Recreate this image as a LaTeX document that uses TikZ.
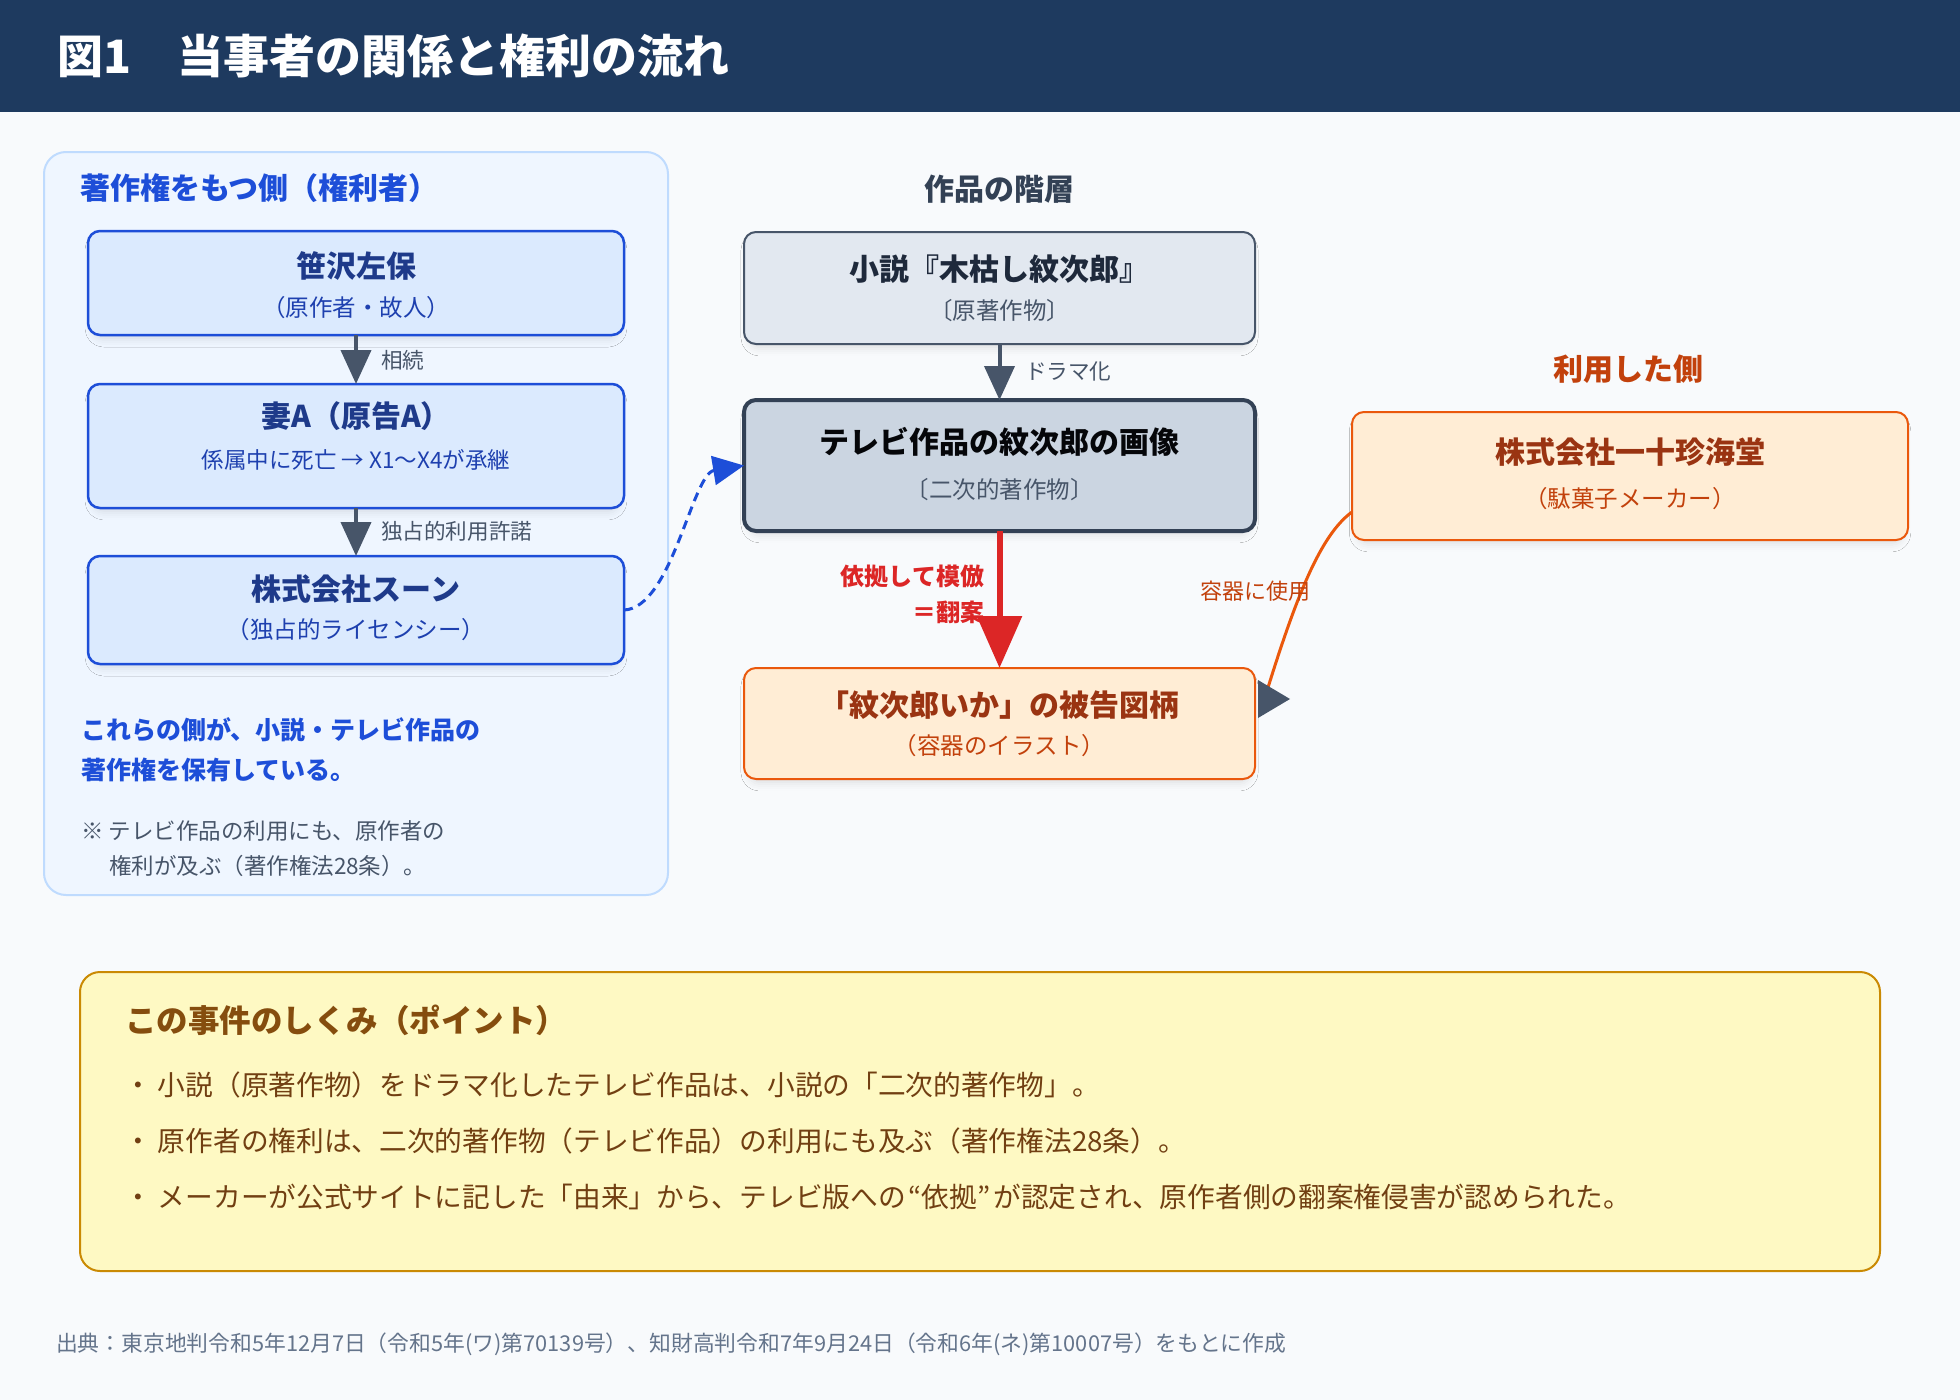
\documentclass[tikz,border=0pt]{standalone}
\usepackage{fontspec}
\setmainfont{Noto Sans CJK JP}
\usetikzlibrary{arrows.meta,shadows.blur}
\definecolor{bgc}{HTML}{F8FAFC}
\definecolor{navy}{HTML}{1E3A5F}
\definecolor{pfill}{HTML}{EFF6FF}
\definecolor{pline}{HTML}{BFDBFE}
\definecolor{bfill}{HTML}{DBEAFE}
\definecolor{bline}{HTML}{1D4ED8}
\definecolor{btitle}{HTML}{1E3A8A}
\definecolor{bsub}{HTML}{1E40AF}
\definecolor{sfill4}{HTML}{E2E8F0}
\definecolor{sfill5}{HTML}{CBD5E1}
\definecolor{slate}{HTML}{475569}
\definecolor{slatedk}{HTML}{334155}
\definecolor{slatetx}{HTML}{1E293B}
\definecolor{ofill}{HTML}{FFEDD5}
\definecolor{oline}{HTML}{EA580C}
\definecolor{otitle}{HTML}{9A3412}
\definecolor{osub}{HTML}{C2410C}
\definecolor{redc}{HTML}{DC2626}
\definecolor{yfill}{HTML}{FEF9C3}
\definecolor{yline}{HTML}{CA8A04}
\definecolor{ytitle}{HTML}{854D0E}
\definecolor{ytext}{HTML}{713F12}
\definecolor{foot}{HTML}{64748B}
\newcommand\myfs[1]{\fontsize{#1}{#1}\selectfont}
\tikzset{
  shad/.style={blur shadow={shadow xshift=0pt,shadow yshift=-6pt,shadow blur radius=7pt,shadow opacity=9,shadow scale=0.985}},
  bluebox/.style={shad,draw=bline,line width=2.5pt,fill=bfill,rounded corners=12pt,minimum width=536pt},
  novelbox/.style={shad,draw=slate,line width=2pt,fill=sfill4,rounded corners=12pt,minimum width=511pt},
  tvbox/.style={shad,draw=slatedk,line width=4pt,fill=sfill5,rounded corners=12pt,minimum width=511pt},
  orbox/.style={shad,draw=oline,line width=2pt,fill=ofill,rounded corners=12pt},
  btit/.style={text=btitle,font=\myfs{30}\bfseries},
  bsubt/.style={text=bsub,font=\myfs{23.5}},
  stit/.style={text=slatetx,font=\myfs{30}\bfseries},
  ssub/.style={text=slate,font=\myfs{23.5}},
  otit/.style={text=otitle,font=\myfs{30}\bfseries},
  osubt/.style={text=osub,font=\myfs{23.5}},
  alabel/.style={text=slate,font=\myfs{21.6},anchor=west},
  slatearrow/.style={draw=slate,line width=4pt,-{Triangle[length=34pt,width=30pt]}},
  heading/.style={font=\myfs{30}\bfseries},
}
\begin{document}
\begin{tikzpicture}[x=1pt,y=-1pt,every node/.style={inner sep=0pt,outer sep=0pt}]
\useasboundingbox (0,0) rectangle (1960,1400);
\fill[bgc] (0,0) rectangle (1960,1400);
\fill[navy] (0,0) rectangle (1960,112);
\node[anchor=west,text=white,font=\myfs{46}\bfseries] (title) at (57,56) {図1　当事者の関係と権利の流れ};

% left panel
\node[draw=pline,line width=2pt,fill=pfill,rounded corners=22pt,minimum width=624pt,minimum height=743pt] (panel) at (356,523.5) {};
\node[heading,text=bline,anchor=west] (ptitle) at (80,188) {著作権をもつ側（権利者）};

\node[bluebox,minimum height=104pt] (b1) at (356,283) {};
\node[btit] (b1t) at (356,266) {笹沢左保};
\node[bsubt] (b1s) at (356,308) {（原作者・故人）};

\node[bluebox,minimum height=124pt] (b2) at (356,446) {};
\node[btit] (b2t) at (356,416) {妻A（原告A）};
\node[bsubt,font=\myfs{22.5}] (b2s) at (356,460) {係属中に死亡 → X1〜X4が承継};

\node[bluebox,minimum height=108pt] (b3) at (356,610) {};
\node[btit] (b3t) at (356,589) {株式会社スーン};
\node[bsubt] (b3s) at (356,630) {（独占的ライセンシー）};

\draw[slatearrow] (b1.south) -- (b2.north);
\node[alabel] (l1) at (381,360) {相続};
\draw[slatearrow] (b2.south) -- (b3.north);
\node[alabel] (l2) at (381,531) {独占的利用許諾};

\node[anchor=west,text=bline,font=\myfs{25}\bfseries] (bt1) at (81,730) {これらの側が、小説・テレビ作品の};
\node[anchor=west,text=bline,font=\myfs{25}\bfseries] (bt2) at (81,770) {著作権を保有している。};
\node[anchor=west,text=slate,font=\myfs{22.5}] (n1) at (81,831) {※ テレビ作品の利用にも、原作者の};
\node[anchor=west,text=slate,font=\myfs{22.5}] (n2) at (109,866) {権利が及ぶ（著作権法28条）。};

% middle column
\node[heading,text=slatedk] (mtitle) at (999,189) {作品の階層};
\node[novelbox,minimum height=112pt] (b4) at (999.5,288) {};
\node[stit] (b4t) at (999.5,269) {小説『木枯し紋次郎』};
\node[ssub] (b4s) at (999.5,311) {〔原著作物〕};

\node[tvbox,minimum height=131pt] (b5) at (999.5,465.5) {};
\node[stit,text=black!85!slatetx] (b5t) at (999.5,442) {テレビ作品の紋次郎の画像};
\node[ssub] (b5s) at (999.5,490) {〔二次的著作物〕};

\draw[slatearrow] (b4.south) -- (b5.north);
\node[alabel] (l3) at (1025,371) {ドラマ化};

\node[orbox,minimum width=511pt,minimum height=111pt] (b6) at (999.5,723.5) {};
\node[otit] (b6t) at (999.5,705) {「紋次郎いか」の被告図柄};
\node[osubt] (b6s) at (999.5,746) {（容器のイラスト）};

\draw[draw=redc,line width=6pt,-{Triangle[length=52pt,width=44pt]}] (b5.south) -- (b6.north);
\node[anchor=east,text=redc,font=\myfs{24}\bfseries] (r1) at (984,576) {依拠して模倣};
\node[anchor=east,text=redc,font=\myfs{24}\bfseries] (r2) at (984,612) {＝翻案};

% right column
\node[heading,text=osub] (rtitle) at (1628,369) {利用した側};
\node[orbox,minimum width=556pt,minimum height=128pt] (b7) at (1630,476) {};
\node[otit] (b7t) at (1630,452) {株式会社一十珍海堂};
\node[osubt] (b7s) at (1630,499) {（駄菓子メーカー）};

% blue dashed connector
\draw[draw=bline,line width=3pt,dash pattern=on 9pt off 6pt,-{Triangle[length=31pt,width=29pt]}]
  (b3.east) .. controls (672,608) and (692,474) .. (b5.west);

% orange curve
\coordinate (oend) at (1266,694);
\draw[draw=oline,line width=3pt] ([yshift=-36pt]b7.west) .. controls (1320,535) and (1295,600) .. (oend);
\fill[slate] (1258,680) -- (1290,699) -- (1258,718) -- cycle;
\node[text=osub,font=\myfs{22}] (l4) at (1255,591) {容器に使用};

% bottom yellow box
\node[draw=yline,line width=2pt,fill=yfill,rounded corners=20pt,minimum width=1800pt,minimum height=299pt] (ybox) at (980,1121.5) {};
\node[anchor=west,text=ytitle,font=\myfs{31.5}\bfseries] (yt) at (125,1020) {この事件のしくみ（ポイント）};
\node[anchor=west,text=ytext,font=\myfs{27.7}] (y1) at (124,1085) {・ 小説（原著作物）をドラマ化したテレビ作品は、小説の「二次的著作物」。};
\node[anchor=west,text=ytext,font=\myfs{27.7}] (y2) at (124,1141) {・ 原作者の権利は、二次的著作物（テレビ作品）の利用にも及ぶ（著作権法28条）。};
\node[anchor=west,text=ytext,font=\myfs{27.7}] (y3) at (124,1197) {・ メーカーが公式サイトに記した「由来」から、テレビ版への\kern3pt“依拠”\kern3pt が認定され、原作者側の翻案権侵害が認められた。};

\node[anchor=west,text=foot,font=\myfs{21.8}] (src) at (56,1344) {出典：東京地判令和5年12月7日（令和5年(ワ)第70139号）、知財高判令和7年9月24日（令和6年(ネ)第10007号）をもとに作成};
\end{tikzpicture}
\end{document}
